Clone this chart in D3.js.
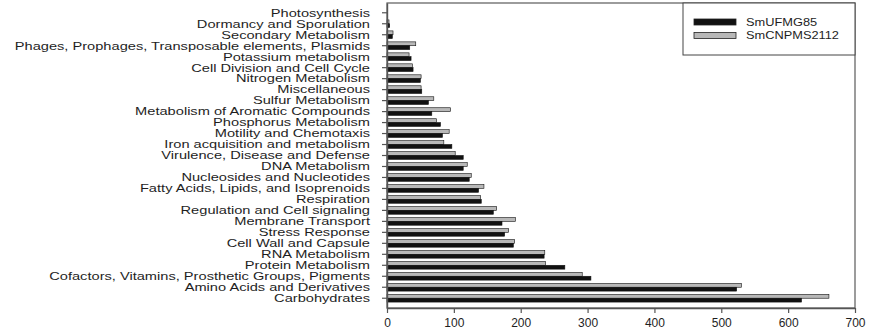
<!DOCTYPE html>
<html>
<head>
<meta charset="utf-8">
<script src="https://cdn.jsdelivr.net/npm/d3@7"></script>
<style>
  body { margin: 0; background: #fff; }
  svg text { font-family: "Liberation Sans", Arial, sans-serif; fill: #1e1e1e; }
</style>
</head>
<body>
<div id="chart"></div>
<script>
// subsystem categories, top to bottom
const categories = [
  'Photosynthesis',
  'Dormancy and Sporulation',
  'Secondary Metabolism',
  'Phages, Prophages, Transposable elements, Plasmids',
  'Potassium metabolism',
  'Cell Division and Cell Cycle',
  'Nitrogen Metabolism',
  'Miscellaneous',
  'Sulfur Metabolism',
  'Metabolism of Aromatic Compounds',
  'Phosphorus Metabolism',
  'Motility and Chemotaxis',
  'Iron acquisition and metabolism',
  'Virulence, Disease and Defense',
  'DNA Metabolism',
  'Nucleosides and Nucleotides',
  'Fatty Acids, Lipids, and Isoprenoids',
  'Respiration',
  'Regulation and Cell signaling',
  'Membrane Transport',
  'Stress Response',
  'Cell Wall and Capsule',
  'RNA Metabolism',
  'Protein Metabolism',
  'Cofactors, Vitamins, Prosthetic Groups, Pigments',
  'Amino Acids and Derivatives',
  'Carbohydrates'
];

const seriesNames = ['SmUFMG85', 'SmCNPMS2112'];

const smUFMG85 = [0, 4, 8, 34, 36, 39, 50, 52, 62, 67, 80, 83, 97, 114, 114, 123, 137, 141, 159, 172, 176, 189, 235, 266, 305, 523, 620];
const smCNPMS2112 = [0, 3, 9, 43, 33, 38, 51, 51, 70, 95, 74, 93, 85, 102, 120, 126, 145, 140, 164, 192, 182, 191, 236, 237, 292, 530, 661];

const xTicks = [0, 100, 200, 300, 400, 500, 600, 700];

const width = 870, height = 333;
const m = { left: 387, right: 855, top: 3, bottom: 308 };

const svg = d3.select('#chart').append('svg')
  .attr('width', width)
  .attr('height', height);

const x = d3.scaleLinear().domain([0, 700]).range([m.left, m.right]);

const y = d3.scaleBand()
  .domain(categories)
  .range([m.top, m.bottom])
  .paddingInner(0.3)
  .paddingOuter(0.54);

// gray series sits above the black one inside each group
const inner = d3.scaleBand()
  .domain(['SmCNPMS2112', 'SmUFMG85'])
  .range([0, y.bandwidth()]);

const colors = { SmUFMG85: '#111', SmCNPMS2112: '#b8b8b8' };

const rows = categories.map((c, i) => ({
  name: c,
  values: [
    { key: 'SmCNPMS2112', value: smCNPMS2112[i] },
    { key: 'SmUFMG85', value: smUFMG85[i] }
  ]
}));

const groups = svg.append('g').selectAll('g')
  .data(rows)
  .enter().append('g')
  .attr('transform', d => 'translate(0,' + y(d.name) + ')');

groups.selectAll('rect')
  .data(d => d.values.filter(v => v.value > 0))
  .enter().append('rect')
  .attr('x', x(0))
  .attr('y', d => inner(d.key))
  .attr('width', d => x(d.value) - x(0))
  .attr('height', inner.bandwidth())
  .attr('fill', d => colors[d.key])
  .attr('stroke', '#111')
  .attr('stroke-width', 0.6);

// frame
svg.append('rect')
  .attr('x', m.left).attr('y', m.top)
  .attr('width', m.right - m.left).attr('height', m.bottom - m.top)
  .attr('fill', 'none')
  .attr('stroke', '#5a5a5a')
  .attr('stroke-width', 1.2);

// x axis
const xAxis = svg.append('g')
  .attr('transform', 'translate(0,' + m.bottom + ')')
  .call(d3.axisBottom(x).tickValues(xTicks).tickSize(5).tickSizeOuter(0).tickPadding(5));
xAxis.select('.domain').attr('stroke', '#555').attr('stroke-width', 1.4);
xAxis.selectAll('.tick line').attr('stroke', '#555').attr('stroke-width', 1.2);
xAxis.selectAll('.tick text').attr('font-size', 12).attr('fill', '#1e1e1e');

// y axis
const yAxis = svg.append('g')
  .attr('transform', 'translate(' + m.left + ',0)')
  .call(d3.axisLeft(y).tickSize(5).tickSizeOuter(0).tickFormat(''));
yAxis.select('.domain').attr('stroke', '#555').attr('stroke-width', 1.4);
yAxis.selectAll('.tick line').attr('stroke', '#555').attr('stroke-width', 1.2);

// category labels, stretched wide like the original export
svg.append('g').selectAll('text')
  .data(categories)
  .enter().append('text')
  .attr('transform', d => 'translate(370,' + (y(d) + y.bandwidth() / 2) + ') scale(1.33,1)')
  .attr('text-anchor', 'end')
  .attr('dy', '0.35em')
  .attr('font-size', 11)
  .text(d => d);

// legend
const legend = svg.append('g');
legend.append('rect')
  .attr('x', 683).attr('y', m.top)
  .attr('width', m.right - 683).attr('height', 52)
  .attr('fill', '#fff')
  .attr('stroke', '#444')
  .attr('stroke-width', 1);

const legendRows = legend.selectAll('g.item')
  .data(seriesNames)
  .enter().append('g')
  .attr('class', 'item')
  .attr('transform', (d, i) => 'translate(694,' + (19 + i * 13.5) + ')');

legendRows.append('rect')
  .attr('width', 42).attr('height', 6)
  .attr('fill', d => colors[d])
  .attr('stroke', '#222')
  .attr('stroke-width', 0.8);

legendRows.append('text')
  .attr('transform', 'translate(52,3) scale(1.22,1)')
  .attr('dy', '0.35em')
  .attr('font-size', 10.5)
  .text(d => d);
</script>
</body>
</html>
